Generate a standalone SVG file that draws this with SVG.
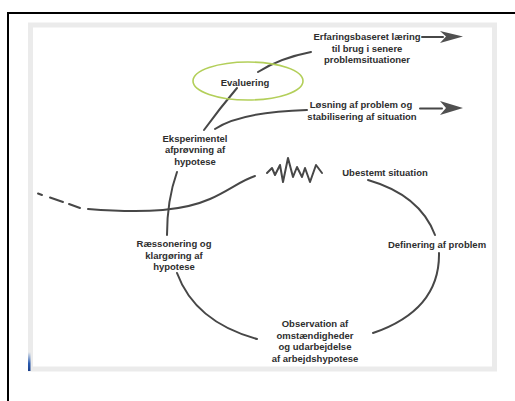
<svg xmlns="http://www.w3.org/2000/svg" width="515" height="401" viewBox="0 0 515 401">
  <defs>
    <linearGradient id="blueEdge" x1="0" y1="0" x2="0" y2="1">
      <stop offset="0" stop-color="#3a6fc0" stop-opacity="0"/>
      <stop offset="0.6" stop-color="#2a5bb0"/>
      <stop offset="1" stop-color="#1a3f8a"/>
    </linearGradient>
  </defs>
  <style>
    .lbl { font-family: "Liberation Sans", Arial, sans-serif; font-weight: bold; font-size: 9.5px; fill: #2e2e2e; text-anchor: middle; }
    .con { fill: none; stroke: #474747; stroke-width: 2; stroke-linecap: round; stroke-linejoin: round; }
    .head { fill: #505050; stroke: none; }
  </style>
  <rect x="0" y="0" width="515" height="401" fill="#ffffff"/>
  <!-- outer black frame -->
  <rect x="8" y="13" width="520" height="400" fill="none" stroke="#000000" stroke-width="2"/>
  <!-- picture frame -->
  <rect x="30.5" y="25" width="464" height="344" fill="#ffffff" stroke="#ebebeb" stroke-width="5"/>
  <rect x="28" y="352" width="2.5" height="19" fill="url(#blueEdge)"/>

  <g id="connectors">
    <path class="con" d="M258,72 Q280,58 311,52"/>
    <path class="con" d="M237,88 Q220,108 204,130"/>
    <path class="con" d="M215,129 Q240,112 307,110"/>
    <path class="con" d="M422,37 L443,37"/>
    <path class="head" d="M463,36.5 L440,31 L446,36.5 L440,43 Z"/>
    <path class="con" d="M420,108.5 L442,108.5"/>
    <path class="head" d="M463,108 L440,101 L446,108 L440,115 Z"/>
    <path class="con" d="M177,172 Q167,200 167,235"/>
    <path class="con" d="M177,273 Q195,322 257,339"/>
    <path class="con" d="M368,180 Q420,195 435,235"/>
    <path class="con" d="M439,253 Q440,310 373,333"/>
    <path class="con" d="M88,209 C150,214 185,210 210,199 C230,190 240,181 255,176"/>
    <path class="con" d="M38,193.5 L42,195 M50,197.5 L63,202 M69,204 L80,208"/>
    <path class="con" stroke-width="1.4" d="M267,173 L272,168 L275,175 L280,165 L283,182 L288,158 L293,177 L297,167 L302,177 L305,168 L310,182 L316,165 L322,173"/>
  </g>

  <g id="node-erfaring">
    <text class="lbl" x="367" y="40">Erfaringsbaseret læring</text>
    <text class="lbl" x="367" y="51.5">til brug i senere</text>
    <text class="lbl" x="367" y="63">problemsituationer</text>
  </g>
  <g id="node-evaluering">
    <ellipse cx="248" cy="81" rx="55" ry="19" fill="none" stroke="#b3cf5a" stroke-width="1.6"/>
    <text class="lbl" x="245" y="85.5">Evaluering</text>
  </g>
  <g id="node-loesning">
    <text class="lbl" x="361" y="107.5">Løsning af problem og</text>
    <text class="lbl" x="362" y="119.5">stabilisering af situation</text>
  </g>
  <g id="node-eksperimentel">
    <text class="lbl" x="195" y="141.5">Eksperimentel</text>
    <text class="lbl" x="195" y="153">afprøvning af</text>
    <text class="lbl" x="195" y="164.5">hypotese</text>
  </g>
  <g id="node-ubestemt">
    <text class="lbl" x="385" y="175.5">Ubestemt situation</text>
  </g>
  <g id="node-definering">
    <text class="lbl" x="437" y="247.5">Definering af problem</text>
  </g>
  <g id="node-observation">
    <text class="lbl" x="315" y="326.5">Observation af</text>
    <text class="lbl" x="315" y="338.5">omstændigheder</text>
    <text class="lbl" x="315" y="350">og udarbejdelse</text>
    <text class="lbl" x="315" y="361.5">af arbejdshypotese</text>
  </g>
  <g id="node-raessonering">
    <text class="lbl" x="174" y="246.5">Ræssonering og</text>
    <text class="lbl" x="174" y="258.5">klargøring af</text>
    <text class="lbl" x="174" y="270">hypotese</text>
  </g>
</svg>
